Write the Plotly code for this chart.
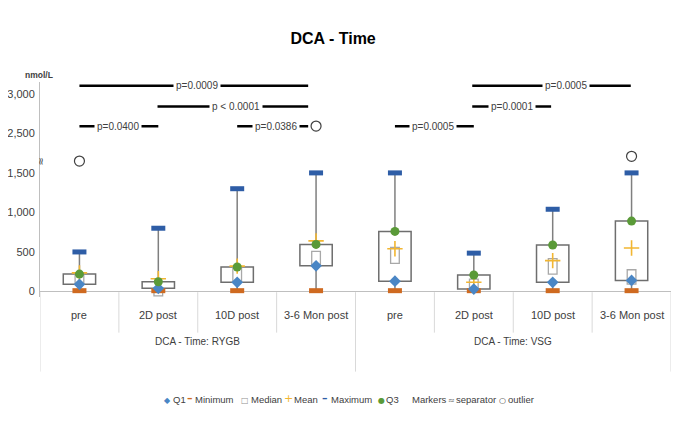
import plotly.graph_objects as go

# ---------------- data (y in plotted-axis units) -------------
categories = ["pre", "2D post", "10D post", "3-6 Mon post",
              "pre", "2D post", "10D post", "3-6 Mon post"]
groups = ["DCA - Time: RYGB", "DCA - Time: VSG"]

minimum = [10, 10, 10, 10, 10, 10, 10, 10]
q1 = [90, 40, 116, 325, 130, 30, 116, 140]
median_box_low = [90, -55, 116, 325, 355, 40, 220, 94]
median_box_high = [205, 25, 305, 506, 557, 157, 415, 275]
mean = [235, 160, 320, 640, 540, 116, 390, 550]
q3 = [220, 123, 310, 595, 760, 208, 588, 890]
maximum = [500, 800, 1300, 1500, 1500, 485, 1040, 1500]

outlier_cat = [0, 3, 7]
outlier_val = [1650, 2093, 1710]

separator_val = 1645

tick_vals = [0, 500, 1000, 1500, 2000, 2500]
tick_text = ["0", "500", "1,000", "1,500", "2,500", "3,000"]

# significance brackets
sig_start = [0, 0.99, 0, 2.0, 4.0, 4.98, 4.98]
sig_end = [1.0, 2.9, 2.9, 2.9, 5.0, 5.98, 6.99]
sig_level = [2090, 2340, 2602, 2090, 2090, 2340, 2602]
sig_text = ["p=0.0400", "p &lt; 0.0001", "p=0.0009", "p=0.0386",
            "p=0.0005", "p=0.0001", "p=0.0005"]
sig_text_pos = [0.49, 1.99, 1.49, 2.49, 4.48, 5.48, 6.17]

# ---------------- styling ----------------
FONT = "Liberation Sans, Arial, sans-serif"
TXT = "#404040"
C_Q1 = "#4A86C5"
C_MIN = "#CF6A20"
C_MAX = "#2E5DA6"
C_Q3 = "#5A9A38"
C_MEAN = "#F2B632"
C_BOX = "#6E6E6E"
C_MED = "#A8A8A8"
C_WHISK = "#7F7F7F"

OFF = 8  # page body margin in the browser
W, H = 685 - OFF, 438 - OFF
ML = 40 - OFF
MT = 82 - OFF
MR = W - (671 - OFF)
MB = H - (297.3 - OFF)
PW = W - ML - MR
PH = H - MT - MB
Y0, Y1 = -70, 2650


def px(xp):
    """reference-image x pixel -> paper x"""
    return (xp - OFF - ML) / PW


def py(yp):
    """reference-image y pixel -> paper y"""
    return (H - MB - (yp - OFF)) / PH


x_idx = list(range(len(categories)))

fig = go.Figure()

# outer boxes (Q1..Q3)
fig.add_trace(go.Bar(
    x=x_idx, base=q1, y=[b - a for a, b in zip(q1, q3)], width=0.41,
    marker=dict(color="white", line=dict(color=C_BOX, width=1.5)),
    showlegend=False, hoverinfo="skip"))
# inner median boxes
fig.add_trace(go.Bar(
    x=x_idx, base=median_box_low,
    y=[b - a for a, b in zip(median_box_low, median_box_high)], width=0.11,
    marker=dict(color="white", line=dict(color=C_MED, width=1.3)),
    showlegend=False, hoverinfo="skip"))
fig.update_layout(barmode="overlay")

# whiskers
wx, wy = [], []
for i in x_idx:
    wx += [i, i, None, i, i, None]
    wy += [minimum[i], q1[i], None, q3[i], maximum[i], None]
fig.add_trace(go.Scatter(x=wx, y=wy, mode="lines",
                         line=dict(color=C_WHISK, width=1.5),
                         showlegend=False, hoverinfo="skip"))

# markers
fig.add_trace(go.Scatter(x=x_idx, y=minimum, mode="markers",
                         marker=dict(symbol="line-ew", size=10,
                                     line=dict(color=C_MIN, width=5)),
                         showlegend=False, cliponaxis=False))
fig.add_trace(go.Scatter(x=x_idx, y=maximum, mode="markers",
                         marker=dict(symbol="line-ew", size=10,
                                     line=dict(color=C_MAX, width=5)),
                         showlegend=False, cliponaxis=False))
fig.add_trace(go.Scatter(x=x_idx, y=mean, mode="markers",
                         marker=dict(symbol="cross-thin", size=11,
                                     line=dict(color=C_MEAN, width=1.6)),
                         showlegend=False))
fig.add_trace(go.Scatter(x=x_idx, y=q1, mode="markers",
                         marker=dict(symbol="diamond", size=9, color=C_Q1),
                         showlegend=False))
fig.add_trace(go.Scatter(x=x_idx, y=q3, mode="markers",
                         marker=dict(symbol="circle", size=9, color=C_Q3),
                         showlegend=False))
fig.add_trace(go.Scatter(x=outlier_cat, y=outlier_val, mode="markers",
                         marker=dict(symbol="circle-open", size=10, color="#404040",
                                     line=dict(color="#404040", width=1.2)),
                         showlegend=False))

shapes = []
annotations = []

# significance brackets
for s, e, lv, t, tp in zip(sig_start, sig_end, sig_level, sig_text, sig_text_pos):
    shapes.append(dict(type="line", xref="x", yref="y", x0=s, x1=e, y0=lv, y1=lv,
                       line=dict(color="black", width=2.6)))
    annotations.append(dict(x=tp, y=lv, xref="x", yref="y", text=t, showarrow=False,
                            bgcolor="white", borderpad=2,
                            font=dict(family=FONT, size=10, color=TXT)))

# separator on axis
annotations.append(dict(x=-0.5, y=separator_val, xref="x", yref="y", text="≈",
                        showarrow=False, textangle=-90,
                        font=dict(family="DejaVu Sans", size=10, color=TXT)))

# category axis dividers and labels
y_zero = py(292.5)
for k in range(len(categories) + 1):
    xb = k - 0.5
    outer = k in (0, 4, 8)
    shapes.append(dict(type="line", xref="x", yref="paper", x0=xb, x1=xb,
                       y0=y_zero, y1=py(372 if outer else 333),
                       line=dict(color="#D9D9D9", width=1)))
for i, c in enumerate(categories):
    annotations.append(dict(x=i, y=py(323), xref="x", yref="paper", text=c,
                            showarrow=False, font=dict(family=FONT, size=11, color=TXT)))
for g, gx in zip(groups, [1.5, 5.5]):
    annotations.append(dict(x=gx, y=py(349), xref="x", yref="paper", text=g,
                            showarrow=False, font=dict(family=FONT, size=10, color=TXT)))

# unit label
annotations.append(dict(x=px(23), y=py(68), xref="paper", yref="paper", text="<b>nmol/L</b>",
                        showarrow=False, font=dict(family=FONT, size=8.5, color=TXT)))

# legend (manual)
leg_y = py(406)
leg_items = [
    (167.5, "◆", C_Q1, 8, 171.5, "Q1"),
    (190, "<b>–</b>", C_MIN, 11, 194, "Minimum"),
    (245.2, "□", "#909090", 8, 249.5, "Median"),
    (288.5, "+", C_MEAN, 11, 293, "Mean"),
    (325, "<b>–</b>", C_MAX, 11, 330, "Maximum"),
    (381.2, "●", C_Q3, 8, 385, "Q3"),
    (None, "", None, 0, 411, "Markers"),
    (451, "≈", "#606060", 8, 455, "separator"),
    (502.8, "○", "#404040", 8, 506.7, "outlier"),
]
for sx, sym, col, ssz, tx, lab in leg_items:
    if sx is not None:
        annotations.append(dict(x=px(sx), y=leg_y, xref="paper", yref="paper", text=sym,
                                showarrow=False, xanchor="center", borderpad=0,
                                font=dict(family="DejaVu Sans", size=ssz, color=col)))
    annotations.append(dict(x=px(tx), y=leg_y, xref="paper", yref="paper", text=lab,
                            showarrow=False, xanchor="left", borderpad=0,
                            font=dict(family=FONT, size=9.5, color=TXT)))

# chart border (right side)
shapes.append(dict(type="line", xref="paper", yref="paper", x0=px(684), x1=px(684),
                   y0=py(437), y1=py(OFF), line=dict(color="#D9D9D9", width=1)))

fig.update_layout(
    width=W, height=H,
    margin=dict(l=ML, r=MR, t=MT, b=MB, autoexpand=False),
    paper_bgcolor="white", plot_bgcolor="white",
    title=dict(text="<b>DCA - Time</b>", x=px(343), xanchor="center",
               y=1 - (38 - OFF) / H, yanchor="middle",
               font=dict(family=FONT, size=16, color="black")),
    xaxis=dict(range=[-0.5, 7.5], showticklabels=False, showgrid=False,
               zeroline=False, showline=False, fixedrange=True, automargin=False),
    yaxis=dict(range=[Y0, Y1], tickvals=tick_vals, ticktext=tick_text,
               showgrid=False, zeroline=True, zerolinecolor="#BFBFBF", zerolinewidth=1.3,
               showline=True, linecolor="#BFBFBF", linewidth=1, ticks="", automargin=False,
               tickfont=dict(family=FONT, size=11, color=TXT), ticklabelstandoff=2),
    shapes=shapes, annotations=annotations,
    showlegend=False,
)

fig.write_html("out.html")
